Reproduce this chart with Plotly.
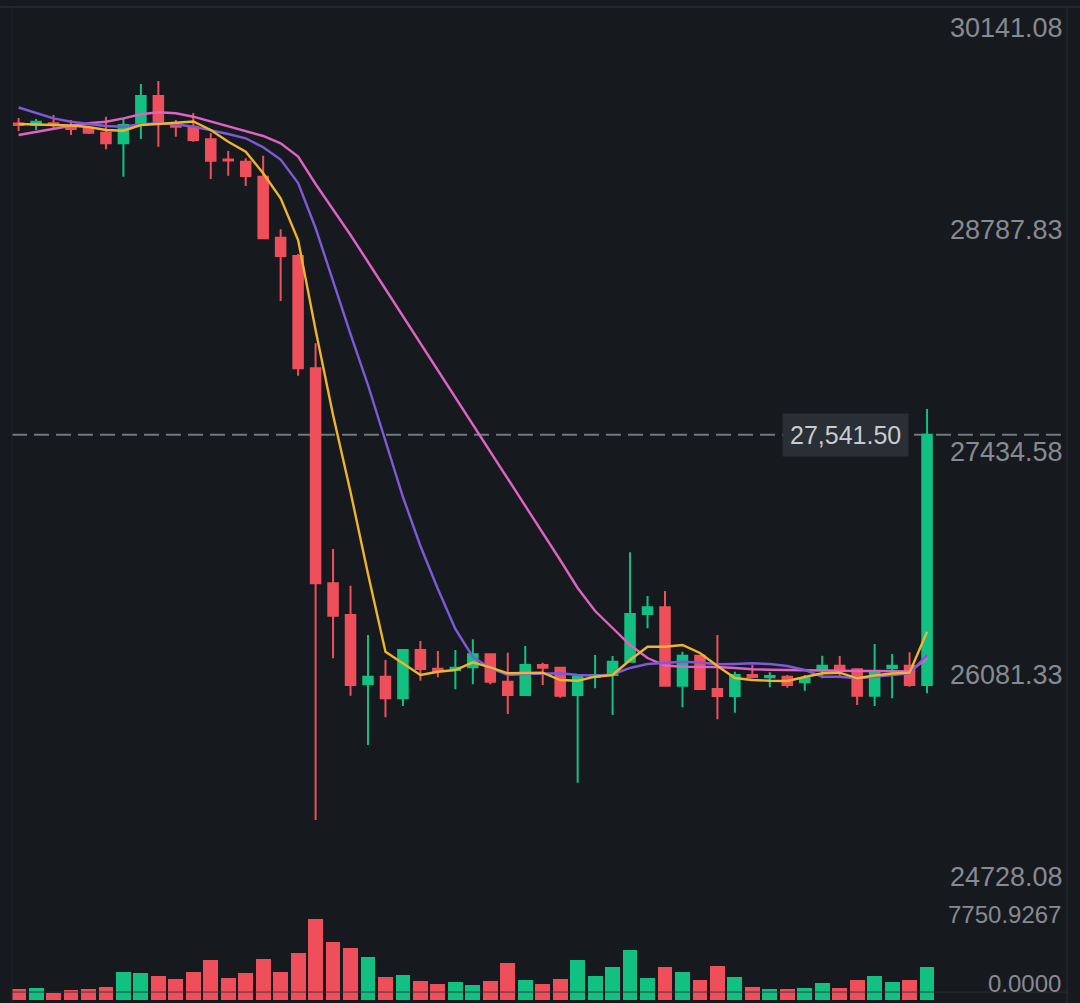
import plotly.graph_objects as go

# ---------------- data ----------------
opens = [29436.2, 29427.1, 29437.4, 29421.0, 29407.0, 29380.2, 29315.7, 29433.1, 29603.6, 29431.3,
         29416.7, 29340.0, 29217.0, 29203.7, 29112.3, 28741.0, 28629.6, 27946.0, 26637.2, 26444.2,
         26022.3, 26068.6, 25937.1, 26231.1, 26117.3, 26109.4, 26125.8, 26205.0, 26038.2, 25957.2,
         26139.8, 26123.4, 25957.2, 26068.6, 26078.9, 26159.9, 26450.3, 26491.1, 26013.8, 26196.4,
         25993.7, 25951.1, 26078.9, 26065.0, 26068.6, 26034.5, 26109.4, 26135.6, 26113.7, 25953.0,
         26119.7, 26135.6, 26018.0]
highs = [29469.7, 29463.6, 29487.9, 29457.5, 29416.7, 29477.6, 29467.8, 29676.6, 29694.9, 29457.5,
         29500.1, 29378.4, 29268.8, 29224.3, 29240.2, 28792.1, 28641.8, 28098.2, 26846.0, 26622.6,
         26322.4, 26170.2, 26235.4, 26285.9, 26225.0, 26231.1, 26296.3, 26211.0, 26214.7, 26255.5,
         26153.8, 26129.5, 26068.6, 26200.7, 26194.6, 26825.9, 26559.8, 26590.3, 26220.8, 26198.0,
         26322.4, 26099.0, 26139.8, 26095.4, 26078.9, 26078.9, 26196.4, 26194.6, 26115.0, 26267.6,
         26206.8, 26217.1, 27698.2]
lows = [29390.5, 29396.6, 29408.8, 29366.2, 29372.3, 29279.1, 29112.3, 29341.8, 29295.0, 29355.8,
        29325.4, 29098.3, 29118.4, 29055.7, 28731.3, 28355.7, 27900.9, 25196.2, 26180.6, 25953.0,
        25652.8, 25821.5, 25890.2, 26044.2, 26065.0, 25991.9, 26022.3, 26022.3, 25841.5, 25955.0,
        26018.0, 25940.8, 25423.4, 25998.0, 25835.4, 26155.0, 26363.3, 26010.0, 25882.3, 25990.0,
        25809.3, 25849.5, 26058.8, 26004.1, 26001.7, 25983.4, 26058.8, 26068.6, 25896.3, 25890.2,
        25937.1, 26007.8, 25967.5]
closes = [29427.1, 29447.2, 29427.1, 29402.7, 29380.2, 29315.7, 29427.1, 29603.6, 29441.1, 29416.7,
          29335.7, 29209.7, 29211.0, 29116.6, 28737.3, 28629.6, 27946.0, 26637.2, 26440.0, 26018.0,
          26068.6, 25937.1, 26231.1, 26115.5, 26103.3, 26123.4, 26205.0, 26038.2, 25957.2, 26139.8,
          26123.4, 25953.0, 26068.6, 26078.9, 26159.9, 26450.3, 26491.1, 26013.8, 26196.4, 25993.7,
          25951.1, 26078.9, 26066.8, 26072.8, 26018.0, 26058.8, 26135.6, 26113.7, 25953.0, 26093.0,
          26135.6, 26018.0, 27541.5]
volumes = [1027, 1152, 701, 960, 1085, 1277, 2717, 2592, 2304, 2016,
           2688, 3840, 2112, 2621, 3965, 2688, 4541, 7750.9267, 5597, 4992,
           4128, 2179, 2400, 1853, 1536, 1757, 1411, 1853, 3523, 1949,
           1536, 2045, 3840, 2304, 3197, 4800, 2112, 3139, 2717, 1920,
           3264, 2208, 1219, 1085, 1056, 1181, 1661, 1152, 1891, 2304,
           1757, 1920, 3197]
ma_short = [29433.2, 29430.1, 29427.1, 29424.0, 29414.9, 29396.6, 29392.4, 29427.1, 29433.2, 29439.2,
            29448.4, 29396.6, 29325.4, 29264.5, 29133.0, 28980.8, 28727.0, 28179.1, 27661.7, 27193.0,
            26693.8, 26220.7, 26150.1, 26078.9, 26099.0, 26109.4, 26156.2, 26125.8, 26089.3, 26092.9,
            26092.9, 26048.5, 26044.2, 26068.6, 26078.9, 26170.0, 26251.3, 26251.3, 26261.6, 26213.0,
            26133.8, 26060.7, 26048.5, 26044.2, 26042.4, 26066.8, 26089.3, 26092.9, 26058.8, 26075.8,
            26088.1, 26092.9, 26342.6]
ma_mid = [29533.6, 29500.1, 29467.8, 29447.2, 29433.2, 29421.0, 29416.7, 29431.3, 29437.4, 29431.3,
          29416.7, 29396.6, 29372.3, 29346.1, 29291.3, 29217.0, 29074.0, 28800.0, 28471.3, 28154.7,
          27844.3, 27509.5, 27162.5, 26864.2, 26602.5, 26359.0, 26188.5, 26121.5, 26078.9, 26085.0,
          26089.3, 26089.3, 26078.9, 26074.7, 26082.0, 26121.5, 26145.9, 26155.0, 26159.9, 26155.0,
          26144.0, 26145.9, 26150.1, 26145.9, 26133.8, 26109.4, 26068.6, 26068.6, 26058.8, 26068.6,
          26078.9, 26089.3, 26200.7]
ma_long = [29366.2, 29386.3, 29407.0, 29422.8, 29437.4, 29447.2, 29467.8, 29492.2, 29504.4, 29498.3,
           29477.6, 29447.2, 29421.0, 29390.5, 29360.1, 29315.7, 29235.3, 29067.9, 28915.7, 28757.4,
           28593.1, 28428.7, 28264.4, 28100.0, 27935.6, 27771.3, 27606.9, 27442.5, 27272.1, 27107.7,
           26943.4, 26779.0, 26608.6, 26468.5, 26365.1, 26261.6, 26182.4, 26136.8, 26129.5, 26129.5,
           26127.7, 26121.5, 26113.7, 26111.2, 26109.4, 26106.4, 26103.3, 26103.3, 26103.3, 26103.3,
           26100.3, 26100.3, 26180.6]
price_ticks = [30141.08, 28787.83, 27434.58, 26081.33, 24728.08]
price_tick_text = ["30141.08", "28787.83", "27434.58", "26081.33", "24728.08"]
volume_ticks = [7750.9267, 0.0]
volume_tick_text = ["7750.9267", "0.0000"]
last_price = 27541.50
last_price_text = "27,541.50"

# ---------------- style ----------------
BG = "#161a1f"
UP = "#12c182"
DOWN = "#ef4f5b"
YELLOW = "#eeb32f"
PURPLE = "#7e5ad8"
PINK = "#de63c3"
AXIS_TXT = "#878a90"
BORDER = "#2a2e35"

idx = list(range(len(opens)))
vol_colors = [UP if c >= o else DOWN for o, c in zip(opens, closes)]

fig = go.Figure()

fig.add_trace(go.Bar(
    x=idx, y=volumes, yaxis="y2", width=0.85,
    marker=dict(color=vol_colors, line=dict(width=0)),
    hoverinfo="skip", showlegend=False,
))

fig.add_trace(go.Candlestick(
    x=idx, open=opens, high=highs, low=lows, close=closes,
    increasing=dict(line=dict(color=UP, width=2), fillcolor=UP),
    decreasing=dict(line=dict(color=DOWN, width=2), fillcolor=DOWN),
    whiskerwidth=0, showlegend=False, hoverinfo="skip",
))

for vals, col in [(ma_long, PINK), (ma_mid, PURPLE), (ma_short, YELLOW)]:
    fig.add_trace(go.Scatter(
        x=idx, y=vals, mode="lines", line=dict(color=col, width=2.4),
        hoverinfo="skip", showlegend=False,
    ))

shapes = [
    # top border
    dict(type="line", xref="paper", yref="paper", x0=-0.02, x1=1.02, y0=1, y1=1,
         line=dict(color=BORDER, width=1.5)),
    # right border
    dict(type="line", xref="paper", yref="paper", x0=1, x1=1, y0=0, y1=1,
         line=dict(color=BORDER, width=1)),
    # left border
    dict(type="line", xref="paper", yref="paper", x0=0, x1=0, y0=0, y1=1,
         line=dict(color="#1f232a", width=1)),
    # volume base line
    dict(type="line", xref="paper", yref="paper", x0=0, x1=1, y0=0.011, y1=0.011,
         line=dict(color="rgba(42,46,54,0.85)", width=1), layer="above"),
    # last price dashed line
    dict(type="line", xref="paper", yref="y", x0=0, x1=1, y0=last_price, y1=last_price,
         line=dict(color="#73777e", width=2, dash="15px,7px"), layer="below"),
]

annotations = []
price_shifts = [-20, 0, 0, 0, 20]
for v, t, s in zip(price_ticks, price_tick_text, price_shifts):
    annotations.append(dict(
        xref="paper", yref="y", x=1, y=v, xanchor="right", yanchor="middle",
        xshift=-2, yshift=s, text=t, showarrow=False,
        font=dict(family="Liberation Sans", size=27, color=AXIS_TXT),
    ))
vol_shifts = [5, 17]
for v, t, s in zip(volume_ticks, volume_tick_text, vol_shifts):
    annotations.append(dict(
        xref="paper", yref="y2", x=1, y=v, xanchor="right", yanchor="middle",
        xshift=-4, yshift=s, text=t, showarrow=False,
        font=dict(family="Liberation Sans", size=24, color=AXIS_TXT),
    ))
annotations.append(dict(
    xref="x", yref="y", x=idx[-1], y=last_price, xanchor="right", yanchor="middle",
    xshift=-18, text=last_price_text, showarrow=False,
    bgcolor="#2a2e35", borderpad=7,
    font=dict(family="Liberation Sans", size=25, color="#c9ccd1"),
))

fig.update_layout(
    width=1080, height=1003,
    margin=dict(l=12, r=13, t=7, b=0),
    paper_bgcolor=BG, plot_bgcolor=BG,
    boxgap=0.22,
    bargap=0,
    showlegend=False,
    hovermode=False,
    xaxis=dict(range=[-0.378, 60.011], visible=False, fixedrange=True,
               rangeslider=dict(visible=False)),
    yaxis=dict(range=[24082.2, 30145.4], visible=False, fixedrange=True),
    yaxis2=dict(range=[-288, 95328], overlaying="y", visible=False, fixedrange=True),
    shapes=shapes,
    annotations=annotations,
)

fig.write_html("out.html", config={"displayModeBar": False, "staticPlot": True},
               post_script="document.body.style.margin='0';document.body.style.background='" + BG + "';")
